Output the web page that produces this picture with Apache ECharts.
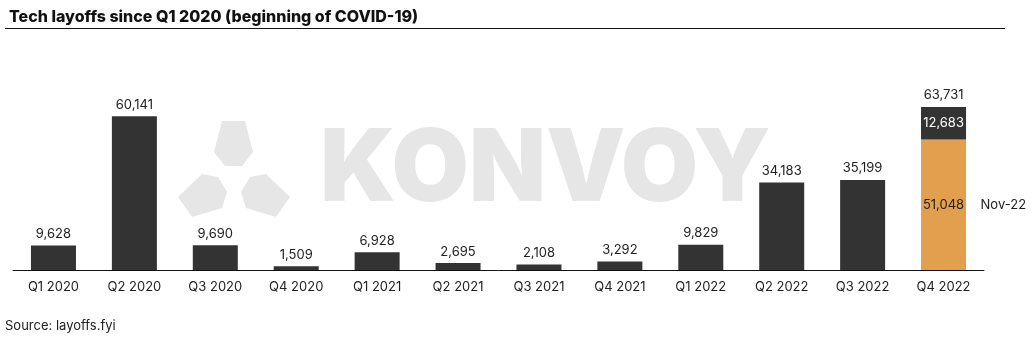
<!DOCTYPE html>
<html>
<head>
<meta charset="utf-8">
<script src="https://cdn.jsdelivr.net/npm/echarts@6/dist/echarts.min.js"></script>
<style>
html,body{margin:0;padding:0;background:#fff;}
#chart{width:1035px;height:337px;}
</style>
</head>
<body>
<div id="chart"></div>
<script>
const categories = ['Q1 2020','Q2 2020','Q3 2020','Q4 2020','Q1 2021','Q2 2021','Q3 2021','Q4 2021','Q1 2022','Q2 2022','Q3 2022','Q4 2022'];
const quarterValues = [9628, 60141, 9690, 1509, 6928, 2695, 2108, 3292, 9829, 34183, 35199, 12683];
const novemberValues = ['-', '-', '-', '-', '-', '-', '-', '-', '-', '-', '-', 51048];
const novemberLabel = 'Nov-22';
const q4Total = 63731;
const titleText = 'Tech layoffs since Q1 2020 (beginning of COVID-19)';
const sourceText = 'Source: layoffs.fyi';

const FONT = 'Inter';
const fmt = v => Number(v).toLocaleString('en-US');
const DARK = '#333333';
const ORANGE = '#e29f4e';

const chart = echarts.init(document.getElementById('chart'));

const darkData = quarterValues.map((v, i) => {
  if (i === categories.length - 1) {
    return {
      value: v,
      label: {
        position: 'inside', color: '#ffffff', backgroundColor: DARK,
        padding: [2, 2, 1, 2]
      }
    };
  }
  return v;
});

const option = {
  animation: false,
  backgroundColor: '#ffffff',
  textStyle: {fontFamily: FONT},
  title: {
    text: titleText, left: 4, top: 4,
    textStyle: {fontFamily: FONT, fontWeight: 800, fontSize: 16, color: '#111'}
  },
  graphic: [
    {type: 'line', shape: {x1: 5, y1: 28.5, x2: 1005, y2: 28.5}, style: {stroke: '#111', lineWidth: 1}, z: 10},
    {type: 'text', left: 5, top: 320, style: {text: sourceText, font: '13px ' + FONT, fill: '#222'}},
    {type: 'polygon', z: -10, shape: {points: [[222,121],[245,121],[253,152],[242,166],[225,166],[214,152]]}, style: {fill: '#e6e6e6'}},
    {type: 'polygon', z: -10, shape: {points: [[202,174],[218,177],[227,192],[222,208],[192,217],[178,197]]}, style: {fill: '#e6e6e6'}},
    {type: 'polygon', z: -10, shape: {points: [[266,174],[250,177],[241,192],[246,208],[276,217],[290,197]]}, style: {fill: '#e6e6e6'}},
    {type: 'text', z: -10, x: 320, y: 121, scaleX: 1.0, style: {text: 'KONVOY', font: '900 100px ' + FONT, fill: '#e6e6e6'}}
  ],
  grid: {left: 13, right: 51, top: 91, bottom: 67, containLabel: false},
  xAxis: {
    type: 'category', data: categories,
    axisLine: {lineStyle: {color: '#111', width: 1}},
    axisTick: {show: false},
    axisLabel: {color: '#222', fontSize: 13, fontFamily: FONT, margin: 11}
  },
  yAxis: {
    type: 'value', min: 0, max: 70000,
    show: false, splitLine: {show: false}
  },
  series: [
    {
      name: 'Nov-22', type: 'bar', stack: 'total', data: novemberValues,
      barWidth: 45, itemStyle: {color: ORANGE},
      label: {
        show: true, position: 'inside', color: '#222', fontSize: 13, fontFamily: FONT,
        backgroundColor: ORANGE, formatter: p => fmt(p.value)
      },
      markPoint: {
        symbol: 'circle', symbolSize: 0,
        data: [{coord: ['Q4 2022', 51048 / 2], value: novemberLabel}],
        label: {show: true, position: 'right', distance: 37, color: '#222', fontSize: 13, fontFamily: FONT, formatter: novemberLabel}
      }
    },
    {
      name: 'Quarter', type: 'bar', stack: 'total', data: darkData,
      barWidth: 45, itemStyle: {color: DARK},
      label: {
        show: true, position: 'top', distance: 5, color: '#222', fontSize: 13, fontFamily: FONT,
        formatter: p => fmt(p.value)
      },
      markPoint: {
        symbol: 'circle', symbolSize: 0,
        data: [{coord: ['Q4 2022', q4Total], value: q4Total}],
        label: {show: true, position: 'top', distance: 5, color: '#222', fontSize: 13, fontFamily: FONT, formatter: () => fmt(q4Total)}
      }
    }
  ]
};
chart.setOption(option);
</script>
</body>
</html>
